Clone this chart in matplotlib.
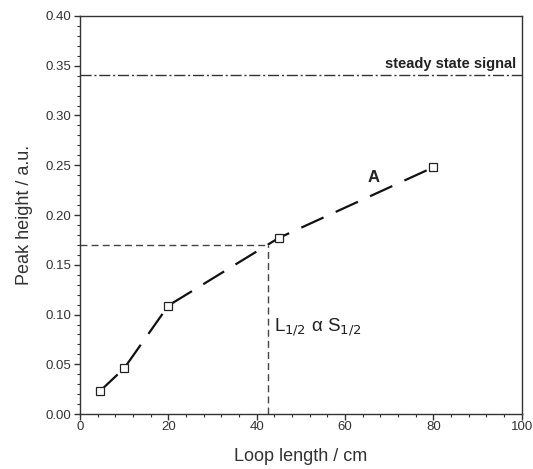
import matplotlib
matplotlib.use("Agg")
import matplotlib.pyplot as plt
from matplotlib.ticker import MultipleLocator, FormatStrFormatter

loop_length = [4.5, 10, 20, 45, 80]
peak_height = [0.023, 0.046, 0.109, 0.177, 0.248]
steady_state = 0.341
half_height = 0.17
half_length = 42.5

plt.rcParams['font.family'] = ['Liberation Sans', 'DejaVu Sans']

fig = plt.figure(figsize=(5.33, 4.69), dpi=100)
ax = fig.add_axes([0.150, 0.117, 0.829, 0.849])

ax.plot(loop_length, peak_height, color='#111111', lw=1.6, dashes=(11, 6),
        marker='s', markersize=5.5, markerfacecolor='white', markeredgecolor='#222222', markeredgewidth=0.9)
ax.axhline(steady_state, color='#333333', lw=1.0, dashes=(8, 2, 1.5, 2))
ax.plot([0, half_length], [half_height, half_height], color='#444444', lw=1.0, dashes=(5, 3))
ax.plot([half_length, half_length], [0, half_height], color='#444444', lw=1.0, dashes=(5, 3))

ax.text(98.8, 0.352, 'steady state signal', ha='right', va='center', fontsize=10.5, fontweight='bold', color='#222222')
ax.text(66.5, 0.238, 'A', ha='center', va='center', fontsize=12, fontweight='bold', color='#222222')
ax.text(44, 0.087, r'L$_{\mathrm{1/2}}$ α S$_{\mathrm{1/2}}$', ha='left', va='center', fontsize=13.5, color='#222222')

ax.set_xlim(0, 100)
ax.set_ylim(0, 0.40)
ax.xaxis.set_major_locator(MultipleLocator(20))
ax.xaxis.set_minor_locator(MultipleLocator(4))
ax.yaxis.set_major_locator(MultipleLocator(0.05))
ax.yaxis.set_minor_locator(MultipleLocator(0.01))
ax.yaxis.set_major_formatter(FormatStrFormatter('%.2f'))
ax.tick_params(which='major', direction='out', length=4, width=1, labelsize=9.5, colors='#333333', pad=2)
ax.tick_params(axis='x', which='major', pad=1)
ax.tick_params(which='minor', direction='out', length=2.5, width=0.8, colors='#333333')
for s in ax.spines.values():
    s.set_color('#333333')
    s.set_linewidth(1.0)

ax.set_xlabel('Loop length / cm', fontsize=13, color='#333333', labelpad=11)
ax.set_ylabel('Peak height / a.u.', fontsize=13, color='#333333', labelpad=9)

fig.savefig('out.png', dpi=100)
